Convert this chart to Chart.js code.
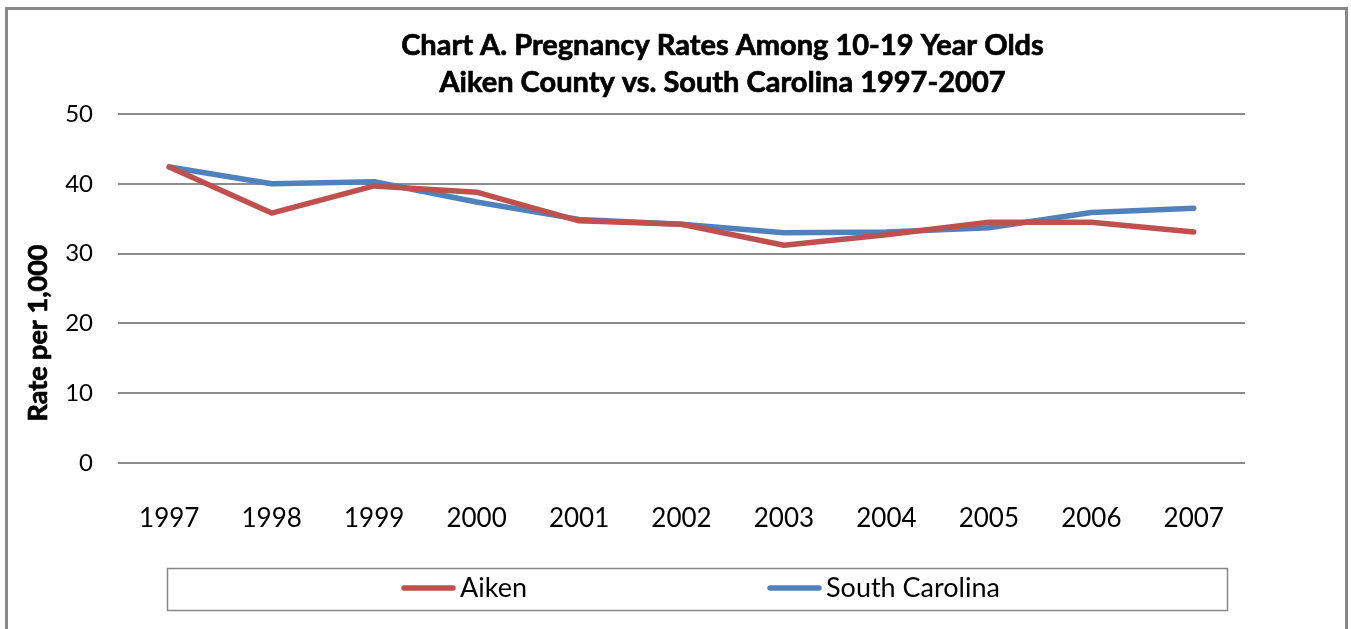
<!DOCTYPE html>
<html>
<head>
<meta charset="utf-8">
<script src="https://cdn.jsdelivr.net/npm/chart.js@4/dist/chart.umd.min.js"></script>
<style>
  html, body { margin: 0; padding: 0; background: #fff; }
  #wrap { position: relative; width: 1351px; height: 629px; }
  canvas { display: block; }
</style>
</head>
<body>
<div id="wrap"><canvas id="c" width="1351" height="629"></canvas></div>
<script>
const years = ['1997','1998','1999','2000','2001','2002','2003','2004','2005','2006','2007'];
const aiken = [42.4, 35.8, 39.7, 38.8, 34.7, 34.2, 31.2, 32.7, 34.5, 34.5, 33.1];
const southCarolina = [42.4, 40.0, 40.3, 37.4, 34.9, 34.2, 33.0, 33.1, 33.7, 35.9, 36.5];
const titleLines = ['Chart A. Pregnancy Rates Among 10-19 Year Olds', 'Aiken County vs. South Carolina 1997-2007'];
const yAxisTitle = 'Rate per 1,000';
const yTicks = { min: 0, max: 50, step: 10 };

const FONT = 'Lato, "Open Sans", sans-serif';

function boldText(ctx, text, x, y) {
  ctx.fillText(text, x, y);
  ctx.lineWidth = 0.7;
  ctx.strokeStyle = '#000';
  ctx.strokeText(text, x, y);
}

const decor = {
  id: 'decor',
  beforeDraw(chart) {
    const ctx = chart.ctx;
    ctx.save();
    ctx.fillStyle = '#ffffff';
    ctx.fillRect(0, 0, chart.width, chart.height);
    ctx.strokeStyle = '#888888';
    ctx.lineWidth = 3;
    ctx.strokeRect(6.5, 8.5, 1340, 640);
    ctx.restore();
  },
  afterDraw(chart) {
    const ctx = chart.ctx;
    const ca = chart.chartArea;
    ctx.save();
    // Title
    ctx.fillStyle = '#000';
    ctx.font = 'bold 29px ' + FONT;
    ctx.textAlign = 'center';
    ctx.textBaseline = 'middle';
    const cx = (ca.left + ca.right) / 2 + 41;
    boldText(ctx, titleLines[0], cx, 46);
    boldText(ctx, titleLines[1], cx, 83);
    // Y axis title
    ctx.save();
    ctx.translate(38, 333);
    ctx.rotate(-Math.PI / 2);
    ctx.font = 'bold 27px ' + FONT;
    boldText(ctx, yAxisTitle, 0, 0);
    ctx.restore();
    // Legend
    ctx.strokeStyle = '#888888';
    ctx.lineWidth = 1.5;
    ctx.strokeRect(167.5, 568.5, 1060, 42);
    const legendX = [402, 768];
    const ly = 588;
    ctx.font = '27px ' + FONT;
    ctx.textAlign = 'left';
    chart.data.datasets.forEach((ds, i) => {
      const x = legendX[i];
      ctx.strokeStyle = ds.borderColor;
      ctx.lineWidth = 5.5;
      ctx.lineCap = 'round';
      ctx.beginPath();
      ctx.moveTo(x + 2, ly);
      ctx.lineTo(x + 51, ly);
      ctx.stroke();
      ctx.fillStyle = '#000';
      ctx.fillText(ds.label, x + 58, ly);
    });
    ctx.restore();
  }
};

new Chart(document.getElementById('c'), {
  type: 'line',
  data: {
    labels: years,
    datasets: [
      { label: 'Aiken', data: aiken, borderColor: '#C0504D', backgroundColor: '#C0504D', borderWidth: 5.5, pointRadius: 0, tension: 0, borderCapStyle: 'round', borderJoinStyle: 'round' },
      { label: 'South Carolina', data: southCarolina, borderColor: '#4F81BD', backgroundColor: '#4F81BD', borderWidth: 5.5, pointRadius: 0, tension: 0, borderCapStyle: 'round', borderJoinStyle: 'round' }
    ]
  },
  options: {
    responsive: false,
    animation: false,
    devicePixelRatio: 1,
    layout: { padding: { left: 0, right: 106, top: 114, bottom: 0 } },
    plugins: { legend: { display: false }, title: { display: false }, tooltip: { enabled: false } },
    scales: {
      x: {
        offset: true,
        grid: { display: false },
        border: { display: false },
        ticks: { color: '#000', font: { family: FONT, size: 26 }, padding: 32, maxRotation: 0 },
        afterFit(scale) { scale.height = 166; }
      },
      y: {
        min: yTicks.min, max: yTicks.max,
        grid: { color: '#8c8c8c', lineWidth: 2, drawTicks: false },
        border: { display: false },
        ticks: { stepSize: yTicks.step, color: '#000', font: { family: FONT, size: 24 }, padding: 25 },
        afterFit(scale) { scale.width = 118; }
      }
    }
  },
  plugins: [decor]
});
</script>
</body>
</html>
